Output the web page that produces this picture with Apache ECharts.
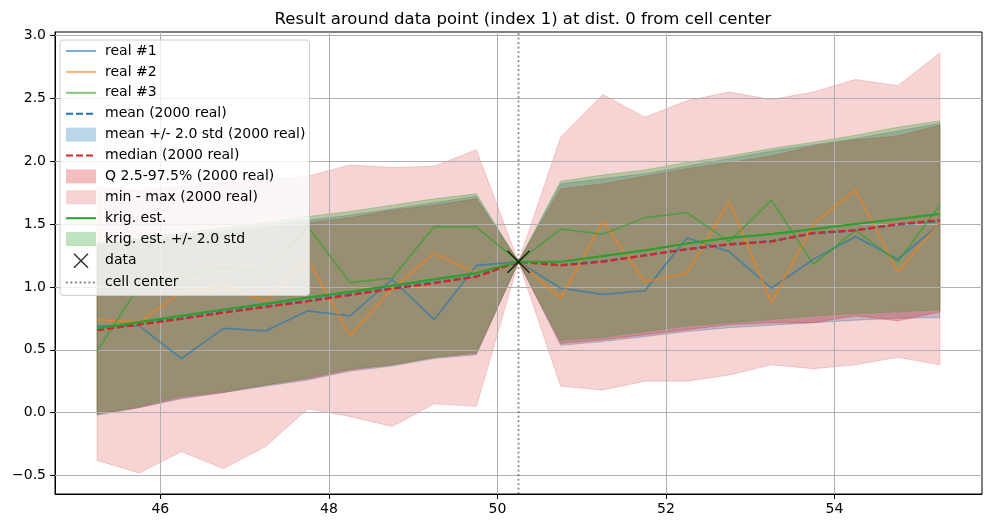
<!DOCTYPE html>
<html>
<head>
<meta charset="utf-8">
<script src="https://cdn.jsdelivr.net/npm/echarts@6/dist/echarts.min.js"></script>
<style>
  html, body { margin: 0; padding: 0; background: #fff; }
  #chart { width: 993px; height: 528px; }
</style>
</head>
<body>
<div id="chart"></div>
<script>
// x positions of the cells (cell center at 50.25)
const xs = [45.25, 45.75, 46.25, 46.75, 47.25, 47.75, 48.25, 48.75, 49.25, 49.75, 50.25,
  50.75, 51.25, 51.75, 52.25, 52.75, 53.25, 53.75, 54.25, 54.75, 55.25]

// three realizations
const real1 = [0.69, 0.69, 0.43, 0.67, 0.65, 0.81, 0.77, 1.06, 0.74, 1.17, 1.20,
  0.99, 0.94, 0.97, 1.39, 1.28, 0.99, 1.22, 1.40, 1.22, 1.50]
const real2 = [0.74, 0.72, 0.96, 1.00, 0.89, 1.22, 0.61, 0.985, 1.265, 1.11, 1.20,
  0.91, 1.52, 1.04, 1.11, 1.68, 0.875, 1.50, 1.77, 1.12, 1.51]
const real3 = [0.49, 1.01, 1.08, 1.16, 1.11, 1.48, 1.035, 1.07, 1.48, 1.475, 1.20,
  1.46, 1.42, 1.55, 1.59, 1.36, 1.69, 1.18, 1.45, 1.20, 1.65]

// statistics over 2000 realizations
const meanV = [0.66, 0.705, 0.75, 0.80, 0.845, 0.89, 0.94, 0.99, 1.035, 1.085, 1.20,
  1.175, 1.205, 1.25, 1.30, 1.335, 1.365, 1.425, 1.45, 1.495, 1.525]
const meanLo = [-0.02, 0.04, 0.11, 0.16, 0.21, 0.26, 0.33, 0.37, 0.43, 0.46, 1.20,
  0.535, 0.565, 0.605, 0.645, 0.675, 0.695, 0.715, 0.735, 0.75, 0.755]
const meanHi = [1.34, 1.38, 1.41, 1.45, 1.49, 1.53, 1.57, 1.62, 1.67, 1.72, 1.20,
  1.82, 1.86, 1.90, 1.96, 2.02, 2.08, 2.13, 2.18, 2.24, 2.30]
const medianV = [0.655, 0.70, 0.745, 0.795, 0.84, 0.885, 0.935, 0.985, 1.03, 1.08, 1.20,
  1.17, 1.20, 1.25, 1.30, 1.34, 1.36, 1.43, 1.45, 1.50, 1.53]
const qLo = [-0.01, 0.04, 0.12, 0.16, 0.22, 0.27, 0.34, 0.38, 0.44, 0.47, 1.20,
  0.55, 0.58, 0.62, 0.66, 0.70, 0.715, 0.715, 0.77, 0.73, 0.80]
const qHi = [1.33, 1.36, 1.39, 1.43, 1.47, 1.51, 1.55, 1.61, 1.65, 1.70, 1.20,
  1.78, 1.82, 1.88, 1.94, 1.99, 2.04, 2.12, 2.17, 2.20, 2.285]
const minV = [-0.38, -0.48, -0.31, -0.445, -0.27, 0.03, -0.03, -0.11, 0.07, 0.05, 1.20,
  0.21, 0.18, 0.25, 0.25, 0.30, 0.38, 0.35, 0.38, 0.44, 0.38]
const maxV = [1.79, 1.77, 1.80, 1.83, 1.85, 1.88, 1.97, 1.95, 1.96, 2.09, 1.20,
  2.19, 2.53, 2.35, 2.48, 2.55, 2.49, 2.55, 2.65, 2.60, 2.86]

// kriging
const krigV = [0.67, 0.72, 0.77, 0.82, 0.865, 0.915, 0.96, 1.01, 1.06, 1.11, 1.20,
  1.20, 1.245, 1.29, 1.345, 1.39, 1.42, 1.46, 1.50, 1.54, 1.58]
const krigLo = [-0.01, 0.05, 0.13, 0.17, 0.22, 0.28, 0.35, 0.38, 0.44, 0.48, 1.20,
  0.575, 0.60, 0.645, 0.69, 0.715, 0.74, 0.77, 0.79, 0.80, 0.82]
const krigHi = [1.35, 1.39, 1.43, 1.47, 1.51, 1.56, 1.60, 1.65, 1.70, 1.74, 1.20,
  1.84, 1.89, 1.93, 1.99, 2.04, 2.10, 2.15, 2.205, 2.27, 2.32]

// data point and cell center
const dataPoint = [50.25, 1.20]
const cellCenter = 50.25

// axes
const xMin = 44.75, xMax = 55.75
const yMin = -0.647, yMax = 3.027
const xTicks = [46, 48, 50, 52, 54]
const yTicks = [-0.5, 0, 0.5, 1.0, 1.5, 2.0, 2.5, 3.0]

const FONT = 'DejaVu Sans'
const BLUE = '#1f77b4', ORANGE = '#ff7f0e', GREEN = '#2ca02c', RED = '#d62728'

function alpha(hex, a) {
  const n = parseInt(hex.slice(1), 16)
  return 'rgba(' + (n >> 16) + ',' + ((n >> 8) & 255) + ',' + (n & 255) + ',' + a + ')'
}

const pairs = (ys) => xs.map((x, i) => [x, ys[i]])

function lineSeries(name, ys, color, width, type) {
  return {
    name: name,
    type: 'line',
    data: pairs(ys),
    symbol: 'none',
    lineStyle: { color: color, width: width, type: type || 'solid' },
    itemStyle: { color: color },
    emphasis: { disabled: true },
    z: 2
  }
}

// filled band between lo and hi (like fill_between)
function bandSeries(name, lo, hi, color) {
  return {
    name: name,
    type: 'custom',
    data: xs.map((x, i) => [x, lo[i], hi[i]]),
    encode: { x: 0, y: [1, 2] },
    itemStyle: { color: color },
    clip: true,
    z: 1,
    renderItem: function (params, api) {
      if (params.dataIndex !== 0) return
      const pts = []
      for (let i = 0; i < xs.length; i++) pts.push(api.coord([xs[i], hi[i]]))
      for (let i = xs.length - 1; i >= 0; i--) pts.push(api.coord([xs[i], lo[i]]))
      return {
        type: 'polygon',
        shape: { points: pts },
        style: { fill: color, stroke: color, lineWidth: 1 }
      }
    }
  }
}

const X_ICON = 'path://M0,0L20,20M20,0L0,20'
// hide the circle that echarts puts on line legend icons
const noSymbol = { color: 'transparent', borderColor: 'transparent', borderWidth: 0 }

const fmtY = (v) => (v < 0 ? '\u2212' : '') + Math.abs(v).toFixed(1)

const chart = echarts.init(document.getElementById('chart'), null, { renderer: 'canvas' })

chart.setOption({
  animation: false,
  title: {
    text: 'Result around data point (index 1) at dist. 0 from cell center',
    left: 518,
    top: 6,
    textAlign: 'center',
    textStyle: { fontFamily: FONT, fontSize: 16.5, fontWeight: 'normal', color: '#000' }
  },
  grid: {
    left: 55, right: 11, top: 32, bottom: 34,
    show: true, borderColor: '#000', borderWidth: 1
  },
  legend: {
    orient: 'vertical',
    left: 60,
    top: 40,
    padding: [4, 4, 6, 5],
    itemWidth: 30,
    itemHeight: 14,
    itemGap: 6.9,
    backgroundColor: 'rgba(255,255,255,0.8)',
    borderColor: '#cccccc',
    borderWidth: 1,
    borderRadius: 3,
    selectedMode: false,
    textStyle: { fontFamily: FONT, fontSize: 14, color: '#000', padding: [0, 0, 0, 4] },
    data: [
      { name: 'real #1', itemStyle: noSymbol },
      { name: 'real #2', itemStyle: noSymbol },
      { name: 'real #3', itemStyle: noSymbol },
      { name: 'mean (2000 real)', itemStyle: noSymbol },
      { name: 'mean +/- 2.0 std (2000 real)', icon: 'rect' },
      { name: 'median (2000 real)', itemStyle: noSymbol },
      { name: 'Q 2.5-97.5% (2000 real)', icon: 'rect' },
      { name: 'min - max (2000 real)', icon: 'rect' },
      { name: 'krig. est.', itemStyle: noSymbol },
      { name: 'krig. est. +/- 2.0 std', icon: 'rect' },
      { name: 'data', icon: X_ICON, itemStyle: { color: 'transparent', borderColor: '#000', borderWidth: 1.5 } },
      { name: 'cell center', itemStyle: noSymbol }
    ]
  },
  xAxis: {
    type: 'value',
    min: xMin,
    max: xMax,
    axisLine: { show: true, onZero: false, lineStyle: { color: '#000', width: 1 } },
    axisTick: { show: true, length: 5, lineStyle: { color: '#000' }, customValues: xTicks },
    axisLabel: { fontFamily: FONT, fontSize: 14, color: '#000', margin: 8, customValues: xTicks },
    splitLine: { show: false }
  },
  yAxis: {
    type: 'value',
    min: yMin,
    max: yMax,
    axisLine: { show: true, onZero: false, lineStyle: { color: '#000', width: 1 } },
    axisTick: { show: true, length: 5, lineStyle: { color: '#000' }, customValues: yTicks },
    axisLabel: {
      fontFamily: FONT, fontSize: 14, color: '#000', margin: 9,
      customValues: yTicks, formatter: fmtY
    },
    splitLine: { show: false }
  },
  series: [
    lineSeries('real #1', real1, alpha(BLUE, 0.6), 1.8),
    lineSeries('real #2', real2, alpha(ORANGE, 0.6), 1.8),
    lineSeries('real #3', real3, alpha(GREEN, 0.6), 1.8),
    lineSeries('mean (2000 real)', meanV, BLUE, 2.2, [7, 3]),
    bandSeries('mean +/- 2.0 std (2000 real)', meanLo, meanHi, alpha(BLUE, 0.3)),
    lineSeries('median (2000 real)', medianV, RED, 2.2, [7, 3]),
    bandSeries('Q 2.5-97.5% (2000 real)', qLo, qHi, alpha(RED, 0.3)),
    bandSeries('min - max (2000 real)', minV, maxV, alpha(RED, 0.2)),
    lineSeries('krig. est.', krigV, GREEN, 2.2),
    bandSeries('krig. est. +/- 2.0 std', krigLo, krigHi, alpha(GREEN, 0.3)),
    {
      name: 'data',
      type: 'scatter',
      data: [dataPoint],
      symbol: X_ICON,
      symbolSize: 22,
      itemStyle: { color: 'transparent', borderColor: '#000', borderWidth: 1.5 },
      emphasis: { disabled: true },
      z: 5
    },
    {
      name: 'cell center',
      type: 'line',
      data: [[cellCenter, yMin], [cellCenter, yMax]],
      symbol: 'none',
      lineStyle: { color: 'rgba(0,0,0,0.5)', width: 1.8, type: [1.8, 2.7] },
      itemStyle: { color: 'rgba(0,0,0,0.5)' },
      emphasis: { disabled: true },
      z: 5
    },
    // grid lines: above the fills, below the lines
    {
      name: 'grid',
      type: 'line',
      data: [],
      silent: true,
      markLine: {
        silent: true,
        z: 1.5,
        symbol: ['none', 'none'],
        label: { show: false },
        lineStyle: { color: '#b0b0b0', width: 1, type: 'solid' },
        emphasis: { disabled: true },
        data: xTicks.map((v) => ({ xAxis: v })).concat(yTicks.map((v) => ({ yAxis: v })))
      }
    }
  ]
})
</script>
</body>
</html>
